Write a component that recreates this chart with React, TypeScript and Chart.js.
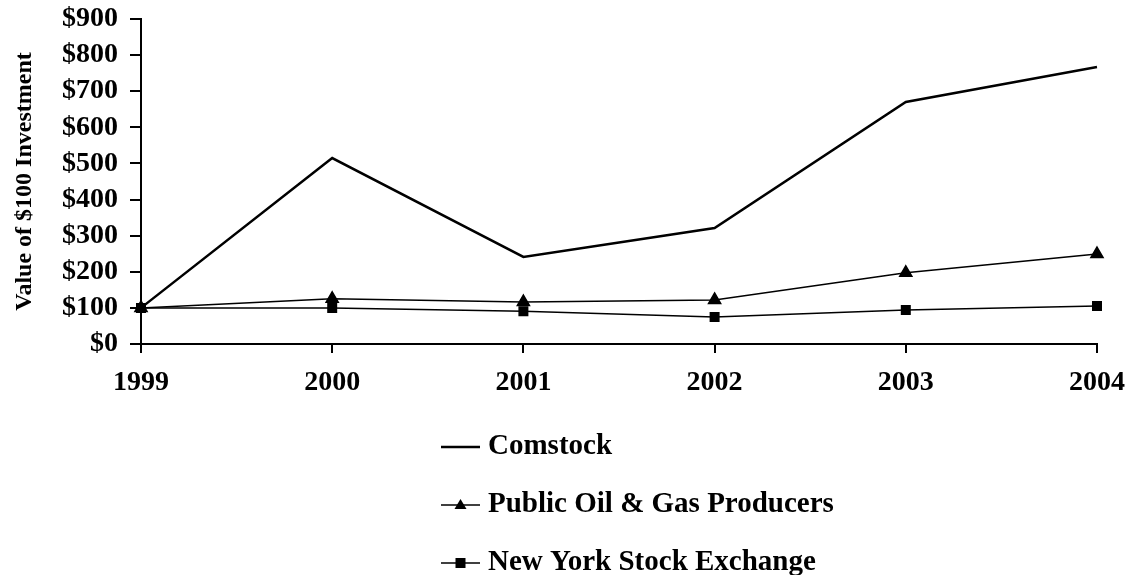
import React, { useEffect, useRef } from "react";
import { Chart, registerables } from "chart.js";

Chart.register(...registerables);

const years = ["1999", "2000", "2001", "2002", "2003", "2004"];
const comstock = [100, 515, 241, 321, 670, 767];
const oilGas = [100, 125, 116, 122, 197, 249];
const nyse = [100, 100, 91, 75, 94, 105];
const yTicks = [0, 100, 200, 300, 400, 500, 600, 700, 800, 900];

const FONT = "'Liberation Serif', 'Times New Roman', serif";

const legendPlugin = {
  id: "stackLegend",
  afterDraw(chart: any) {
    const ctx = chart.ctx;
    const x0 = 441;
    const rows = [447, 505, 563];
    ctx.save();
    chart.data.datasets.forEach((ds: any, i: number) => {
      const y = rows[i];
      ctx.strokeStyle = "#000";
      ctx.lineWidth = ds.borderWidth;
      ctx.beginPath();
      ctx.moveTo(x0, y);
      ctx.lineTo(x0 + 39, y);
      ctx.stroke();
      ctx.fillStyle = "#000";
      const cx = x0 + 19.5;
      if (ds.pointStyle === "triangle") {
        ctx.beginPath();
        ctx.moveTo(cx, y - 6);
        ctx.lineTo(cx + 6, y + 4);
        ctx.lineTo(cx - 6, y + 4);
        ctx.closePath();
        ctx.fill();
      } else if (ds.pointStyle === "rect") {
        ctx.fillRect(cx - 5, y - 5, 10, 10);
      }
      ctx.font = `bold 29px ${FONT}`;
      ctx.textBaseline = "middle";
      ctx.textAlign = "left";
      ctx.fillText(ds.label, x0 + 47, y);
    });
    ctx.restore();
  },
};

export default function App() {
  const ref = useRef<HTMLCanvasElement>(null);
  useEffect(() => {
    const chart = new Chart(ref.current!, {
      type: "line",
      data: {
        labels: years,
        datasets: [
          {
            label: "Comstock",
            data: comstock,
            borderColor: "#000",
            backgroundColor: "#000",
            borderWidth: 2.5,
            pointRadius: 0,
            pointStyle: false as any,
            tension: 0,
          },
          {
            label: "Public Oil & Gas Producers",
            data: oilGas,
            borderColor: "#000",
            backgroundColor: "#000",
            borderWidth: 1.5,
            pointStyle: "triangle",
            pointRadius: 7,
            tension: 0,
          },
          {
            label: "New York Stock Exchange",
            data: nyse,
            borderColor: "#000",
            backgroundColor: "#000",
            borderWidth: 1.5,
            pointStyle: "rect",
            pointRadius: 6,
            tension: 0,
          },
        ],
      },
      options: {
        animation: false,
        responsive: false,
        layout: { padding: { left: 0, right: 32, top: 19, bottom: 171 } },
        plugins: {
          legend: { display: false },
          tooltip: { enabled: false },
        },
        scales: {
          x: {
            type: "category",
            offset: false,
            grid: { drawOnChartArea: false, drawTicks: true, tickLength: 9, color: "#000", lineWidth: 2 },
            border: { display: true, color: "#000", width: 2 },
            ticks: {
              color: "#000",
              font: { family: FONT, size: 28, weight: "bold" },
              padding: 13,
              maxRotation: 0,
              autoSkip: false,
            },
            afterFit: (s: any) => {
              s.height = 60;
              s.paddingLeft = 0;
              s.paddingRight = 0;
            },
          },
          y: {
            min: 0,
            max: 900,
            afterBuildTicks: (s: any) => {
              s.ticks = yTicks.map((v) => ({ value: v }));
            },
            grid: { drawOnChartArea: false, drawTicks: true, tickLength: 11, color: "#000", lineWidth: 2 },
            border: { display: true, color: "#000", width: 2 },
            ticks: {
              color: "#000",
              font: { family: FONT, size: 28, weight: "bold" },
              padding: 12,
              autoSkip: false,
              callback: (v: any) => "$" + v,
            },
            title: {
              display: true,
              text: "Value of $100 Investment",
              color: "#000",
              font: { family: FONT, size: 24, weight: "bold" },
              padding: { top: 10, bottom: 0 },
            },
            afterFit: (s: any) => {
              s.width = 141;
              s.paddingTop = 0;
              s.paddingBottom = 0;
            },
          },
        },
      },
      plugins: [legendPlugin],
    });
    return () => chart.destroy();
  }, []);
  return (
    <div style={{ position: "absolute", left: 0, top: 0, width: 1129, height: 575, background: "#fff" }}>
      <canvas ref={ref} width={1129} height={575} />
    </div>
  );
}
